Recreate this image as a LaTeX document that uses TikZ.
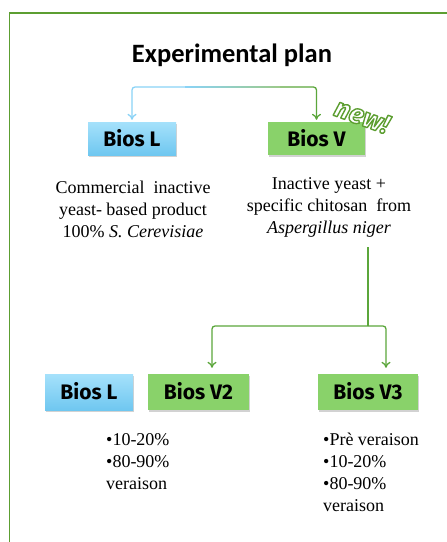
\documentclass[tikz,border=0pt]{standalone}
\usepackage{fontspec}
\setmainfont{Liberation Serif}
\newfontfamily\calfont{Carlito}
\newfontfamily\boxfont{Fira Sans}
\usetikzlibrary{arrows.meta,shadows}

\definecolor{framegreen}{HTML}{5C9E31}
\definecolor{arrblue}{HTML}{8AD3F7}
\definecolor{arrgreen}{HTML}{5BA63B}
\definecolor{boxbluetop}{HTML}{A5E1FB}
\definecolor{boxbluebot}{HTML}{6FC7F0}
\definecolor{boxgreen}{HTML}{89D26A}

% outlined text: white fill, green stroke
\newcommand\outlinetext[1]{\color{white}\special{pdf:literal 0.36 0.62 0.19 RG 1.4 w 1 j 2 Tr}#1\special{pdf:literal 0 Tr}}

\tikzset{
  bios/.style={minimum height=33pt,inner sep=0pt,text height=15pt,text depth=0pt,
    font=\boxfont\bfseries\fontsize{21}{21}\selectfont,
    drop shadow={shadow xshift=1pt,shadow yshift=-2pt,opacity=0.35}},
  biosl/.style={bios,top color=boxbluetop,bottom color=boxbluebot},
  biosv/.style={bios,fill=boxgreen},
  desc/.style={font=\fontsize{18}{22}\selectfont,inner sep=0pt},
  grline/.style={draw=arrgreen,line width=1.3pt,rounded corners=3pt},
  newtxt/.style={font=\boxfont\bfseries\itshape\fontsize{27}{27}\selectfont,rotate=-20,inner sep=0pt},
}

\begin{document}
\begin{tikzpicture}[x=1pt,y=-1pt,>={To[length=6pt,width=9pt]}]
   \useasboundingbox (0,0) rectangle (447,542) ;
   \clip (0,0) rectangle (447,542) ;
   \fill[white] (0,0) rectangle (447,542) ;
   \draw[framegreen,line width=1.3pt] (9.5,13) rectangle (470,570) ;
   \node[font=\calfont\bfseries\fontsize{26.5}{26.5}\selectfont,anchor=base] (title) at (232,62) {Experimental plan} ;
   % first row
   \node[biosl,minimum width=88pt] (biosL) at (132,138.5) {Bios L} ;
   \node[biosv,minimum width=97pt] (biosV) at (316.5,138.5) {Bios V} ;
   \coordinate (fork) at (224,87) ;
   \draw[->,arrblue,line width=1.3pt,rounded corners=3pt,shorten >=2pt] (fork) -| (biosL) ;
   \draw[->,arrgreen,line width=1.3pt,rounded corners=3pt,shorten >=2pt] (fork) -| (biosV) ;
   \shade[left color=arrblue,right color=arrgreen!60] (185,86.35) rectangle (280,87.65) ;
   \node[newtxt] (new) at (362,116) {\outlinetext{new!}} ;
   \node[desc,anchor=north,align=center] (descL) at (133,181)
      {Commercial\ \ inactive\\ yeast- based product\\ 100\% \textit{S. Cerevisiae}} ;
   \node[desc,anchor=north,align=center] (descV) at (329,177)
      {Inactive yeast +\\ specific chitosan\ \ from\\ \textit{Aspergillus niger}} ;
   % second row
   \node[biosl,minimum width=88pt,minimum height=36pt] (biosLb) at (89,392) {Bios L} ;
   \node[biosv,minimum width=101pt,minimum height=36pt] (biosVtwo) at (198.5,392) {Bios V2} ;
   \node[biosv,minimum width=100pt,minimum height=36pt] (biosVthree) at (368,392) {Bios V3} ;
   \coordinate (split) at (368,326) ;
   \draw[grline] ([yshift=-10pt]descV.south -| split) -- (split) ;
   \draw[grline,->,shorten >=6pt] (split) -| ([xshift=13.5pt]biosVtwo.north) ;
   \draw[grline,->,shorten >=6pt] (split) -| ([xshift=18pt]biosVthree.north) ;
   \node[desc,anchor=north west,align=left] (listVtwo) at (106,433)
      {•10-20\%\\ •80-90\%\\ veraison} ;
   \node[desc,anchor=north west,align=left] (listVthree) at (323,433)
      {•Prè veraison\\ •10-20\%\\ •80-90\%\\ veraison} ;
\end{tikzpicture}
\end{document}
